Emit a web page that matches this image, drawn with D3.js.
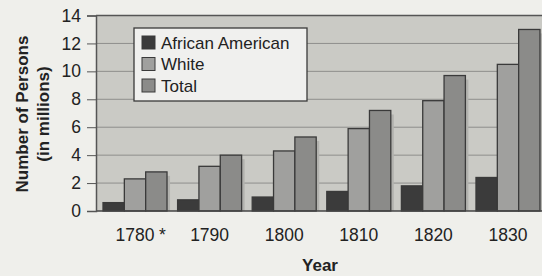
<!DOCTYPE html>
<html>
<head>
<meta charset="utf-8">
<script src="https://cdn.jsdelivr.net/npm/d3@7"></script>
<style>
  body { margin: 0; background: #efefeb; }
  text { font-family: "Liberation Sans", Arial, sans-serif; }
</style>
</head>
<body>
<div id="chart"></div>
<script>
var width = 542;
var height = 276;

// data (millions of persons)
var years = ["1780*", "1790", "1800", "1810", "1820", "1830"];
var series = ["African American", "White", "Total"];
var africanAmerican = [0.6, 0.8, 1.0, 1.4, 1.8, 2.4];
var white = [2.3, 3.2, 4.3, 5.9, 7.9, 10.5];
var total = [2.8, 4.0, 5.3, 7.2, 9.7, 13.0];
var yTicks = [0, 2, 4, 6, 8, 10, 12, 14];

var colors = {"African American": "#3b3b3b", "White": "#a0a09e", "Total": "#8b8b89"};

var rows = years.map(function(y, i) {
    return {year: y, "African American": africanAmerican[i], "White": white[i], "Total": total[i]};
});

var margin = {top: 15.5, right: -5, bottom: 65, left: 96};

var svg = d3.select('#chart').append('svg')
    .attr('width', width)
    .attr('height', height);

svg.append('rect')
    .attr('width', width).attr('height', height)
    .attr('fill', '#efefeb');

var x0 = d3.scaleBand()
    .domain(years)
    .range([margin.left, width - margin.right])
    .paddingInner(0.142)
    .paddingOuter(0.094);

var x1 = d3.scaleBand()
    .domain(series)
    .range([0, x0.bandwidth()]);

var y = d3.scaleLinear()
    .domain([0, 14])
    .range([height - margin.bottom, margin.top]);

// plot background
svg.append('rect')
    .attr('x', margin.left)
    .attr('y', y(14))
    .attr('width', width - margin.left)
    .attr('height', y(0) - y(14))
    .attr('fill', '#cacac5');

// gridlines
svg.append('g')
    .selectAll('line')
    .data(yTicks.slice(1, -1))
    .enter().append('line')
      .attr('x1', margin.left)
      .attr('x2', width)
      .attr('y1', function(d) { return y(d); })
      .attr('y2', function(d) { return y(d); })
      .attr('stroke', '#8e8e8c')
      .attr('stroke-width', 1);

// bars with a soft shadow on the right
var group = svg.append('g')
    .selectAll('g')
    .data(rows)
    .enter().append('g')
      .attr('transform', function(d) { return 'translate(' + x0(d.year) + ',0)'; });

group.selectAll('.shadow')
    .data(function(d) { return series.map(function(s) { return {key: s, value: d[s]}; }); })
    .enter().append('rect')
      .attr('class', 'shadow')
      .attr('x', function(d) { return x1(d.key) + 3; })
      .attr('y', function(d) { return y(d.value) + 4; })
      .attr('width', x1.bandwidth())
      .attr('height', function(d) { return y(0) - y(d.value) - 4; })
      .attr('fill', '#b2b2ae');

group.selectAll('.bar')
    .data(function(d) { return series.map(function(s) { return {key: s, value: d[s]}; }); })
    .enter().append('rect')
      .attr('class', 'bar')
      .attr('x', function(d) { return x1(d.key); })
      .attr('y', function(d) { return y(d.value); })
      .attr('width', x1.bandwidth())
      .attr('height', function(d) { return y(0) - y(d.value); })
      .attr('fill', function(d) { return colors[d.key]; })
      .attr('stroke', '#3a3a3a')
      .attr('stroke-width', 1.3);

// frame: top, left and baseline
svg.append('line')
    .attr('x1', margin.left).attr('x2', width)
    .attr('y1', y(14)).attr('y2', y(14))
    .attr('stroke', '#555').attr('stroke-width', 1.5);

svg.append('line')
    .attr('x1', margin.left).attr('x2', width)
    .attr('y1', y(0)).attr('y2', y(0))
    .attr('stroke', '#444').attr('stroke-width', 1.5);

// y axis
var yAxis = svg.append('g')
    .attr('transform', 'translate(' + margin.left + ',0)')
    .call(d3.axisLeft(y).tickValues(yTicks).tickSize(9).tickPadding(6));

yAxis.select('.domain').attr('stroke', '#555').attr('stroke-width', 1.5);
yAxis.selectAll('.tick line').attr('stroke', '#555');
yAxis.selectAll('.tick text')
    .style('font-size', '17.5px')
    .attr('fill', '#222');

// x labels (the asterisk hangs off the centred year)
svg.append('g')
    .selectAll('text')
    .data(years)
    .enter().append('text')
      .attr('x', function(d) { return x0(d) + x0.bandwidth() / 2; })
      .attr('y', 241)
      .attr('text-anchor', 'middle')
      .style('font-size', '17.5px')
      .attr('fill', '#222')
      .text(function(d) { return d.replace('*', ''); });

svg.append('text')
    .attr('x', x0(years[0]) + x0.bandwidth() / 2 + 24)
    .attr('y', 241)
    .style('font-size', '17.5px')
    .attr('fill', '#222')
    .text('*');

// axis titles
svg.append('text')
    .attr('x', 320)
    .attr('y', 271)
    .attr('text-anchor', 'middle')
    .style('font-size', '17px')
    .style('font-weight', 'bold')
    .attr('fill', '#222')
    .text('Year');

var ytitle = svg.append('text')
    .attr('transform', 'translate(28,114) rotate(-90)')
    .attr('text-anchor', 'middle')
    .style('font-size', '17px')
    .style('font-weight', 'bold')
    .attr('fill', '#222');
ytitle.append('tspan').attr('x', 0).attr('dy', 0).text('Number of Persons');
ytitle.append('tspan').attr('x', 0).attr('dy', 21).text('(in millions)');

// legend
var legend = svg.append('g').attr('transform', 'translate(134,28)');
legend.append('rect')
    .attr('width', 173).attr('height', 73)
    .attr('fill', '#f0f0ee')
    .attr('stroke', '#3a3a3a').attr('stroke-width', 1.3);

var item = legend.selectAll('.item')
    .data(series)
    .enter().append('g')
      .attr('class', 'item')
      .attr('transform', function(d, i) { return 'translate(8,' + (8 + i * 21.5) + ')'; });

item.append('rect')
    .attr('width', 13).attr('height', 13)
    .attr('fill', function(d) { return colors[d]; })
    .attr('stroke', '#3a3a3a');

item.append('text')
    .attr('x', 19)
    .attr('y', 12.5)
    .style('font-size', '17px')
    .attr('fill', '#222')
    .text(function(d) { return d; });
</script>
</body>
</html>
